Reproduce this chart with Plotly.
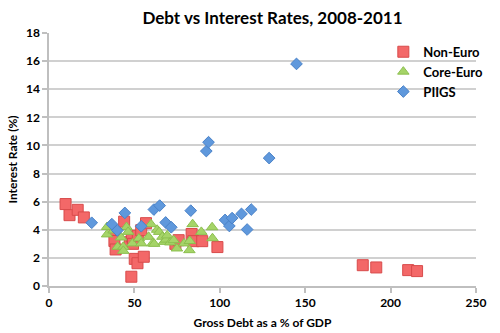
import plotly.graph_objects as go

non_euro_x = [9.7, 12.0, 16.8, 20.4, 38.5, 38.3, 39.0, 44.0, 47.3, 48.5, 48.2, 49.2, 50.2, 51.8, 52.0, 54.0,
              55.5, 56.8, 74.0, 75.9, 83.5, 84.5, 89.7, 98.6, 183.7, 191.6, 210.3, 215.5]
non_euro_y = [5.83, 5.04, 5.42, 4.88, 3.85, 3.2, 2.6, 4.58, 3.12, 3.52, 0.66, 3.0, 1.93, 1.62, 3.58, 3.97,
              2.08, 4.47, 3.0, 3.26, 3.7, 3.19, 3.19, 2.77, 1.48, 1.32, 1.13, 1.06]

core_x = [34.0, 34.0, 37.8, 40.2, 42.2, 43.5, 43.5, 45.4, 46.3, 48.8, 52.6, 54.0, 58.3, 59.7, 60.6, 61.6,
          63.3, 64.5, 66.4, 67.3, 68.5, 69.2, 71.0, 73.0, 74.9, 79.1, 82.2, 82.4, 84.1, 89.2, 95.5, 95.7]
core_y = [4.2, 3.67, 3.95, 2.79, 3.45, 2.79, 2.5, 4.2, 3.85, 3.03, 3.38, 3.03, 3.5, 4.4, 3.03, 3.0,
          4.0, 3.85, 3.5, 3.14, 3.3, 3.6, 3.1, 3.26, 2.67, 3.03, 2.55, 3.2, 4.4, 3.85, 4.18, 3.4]

piigs_x = [25.0, 36.8, 40.0, 44.4, 54.0, 61.4, 64.8, 68.3, 71.6, 83.0, 92.1, 93.4, 103.1, 105.6, 107.2,
           112.7, 116.0, 118.4, 128.9, 144.9]
piigs_y = [4.5, 4.4, 3.95, 5.2, 4.25, 5.44, 5.72, 4.52, 4.18, 5.36, 9.6, 10.23, 4.7, 4.27, 4.83,
           5.13, 4.02, 5.44, 9.1, 15.8]

x_ticks = [0, 50, 100, 150, 200, 250]
y_ticks = [0, 2, 4, 6, 8, 10, 12, 14, 16, 18]

font_family = "Lato, 'Open Sans', sans-serif"

fig = go.Figure()
fig.add_trace(go.Scatter(
    x=non_euro_x, y=non_euro_y, mode="markers", name="<b>Non-Euro</b>",
    marker=dict(symbol="square", size=11, color="#F36868", line=dict(color="#D84B4B", width=1))))
fig.add_trace(go.Scatter(
    x=core_x, y=core_y, mode="markers", name="<b>Core-Euro</b>",
    marker=dict(symbol="triangle-up", size=10, color="#A5D468", line=dict(color="#8CBF4F", width=1))))
fig.add_trace(go.Scatter(
    x=piigs_x, y=piigs_y, mode="markers", name="<b>PIIGS</b>",
    marker=dict(symbol="diamond", size=9, color="#5F98DC", line=dict(color="#4A82C8", width=1))))

fig.update_layout(
    width=500, height=333,
    margin=dict(l=49, r=14, t=33, b=47),
    paper_bgcolor="white", plot_bgcolor="white",
    font=dict(family=font_family, color="black"),
    title=dict(text="<b>Debt vs Interest Rates, 2008-2011</b>", x=0.545, xanchor="center",
               y=0.965, yanchor="top", font=dict(size=17, family=font_family)),
    showlegend=True,
    legend=dict(x=0.783, y=0.985, xanchor="left", yanchor="top", bgcolor="rgba(0,0,0,0)",
                font=dict(size=13, family=font_family), itemwidth=30, tracegroupgap=4),
    xaxis=dict(range=[0, 250], tickvals=x_ticks, ticktext=[f"<b>{v}</b>" for v in x_ticks],
               automargin=False,
               showgrid=False, zeroline=False, showline=True, linecolor="#BFBFBF", linewidth=1.5,
               ticks="outside", ticklen=5, tickcolor="#BFBFBF", tickwidth=1.5,
               tickfont=dict(size=12, family=font_family),
               title=dict(text="<b>Gross Debt as a % of GDP</b>", font=dict(size=12, family=font_family),
                          standoff=9)),
    yaxis=dict(range=[0, 18], tickvals=y_ticks, ticktext=[f"<b>{v}</b>" for v in y_ticks],
               automargin=False,
               showgrid=True, gridcolor="#D0D0D0", gridwidth=1.5, zeroline=False,
               showline=True, linecolor="#BFBFBF", linewidth=1.5,
               ticks="outside", ticklen=5, tickcolor="#BFBFBF", tickwidth=1.5,
               tickfont=dict(size=12, family=font_family),
               title=dict(text="<b>Interest Rate (%)</b>", font=dict(size=12, family=font_family),
                          standoff=6)),
)

fig.write_html("out.html")
